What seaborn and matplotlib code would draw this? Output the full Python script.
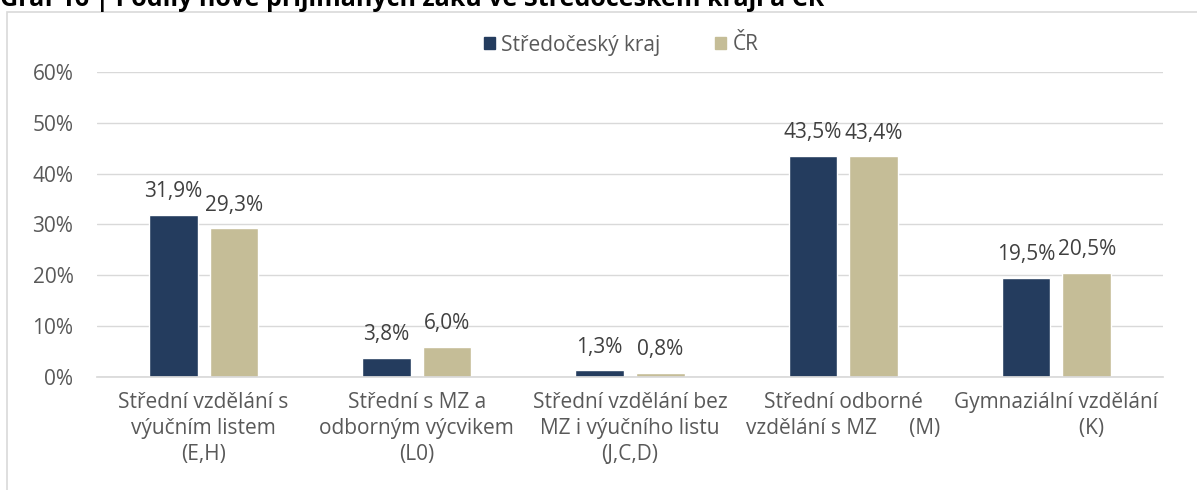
import matplotlib
matplotlib.use("Agg")
import matplotlib.pyplot as plt
import matplotlib.patches as mpatches
import seaborn as sns
import pandas as pd

categories = [
    "Střední vzdělání s\nvýučním listem\n(E,H)",
    "Střední s MZ a\nodborným výcvikem\n(L0)",
    "Střední vzdělání bez\nMZ i výučního listu\n(J,C,D)",
    "Střední odborné\nvzdělání s MZ      (M)",
    "Gymnaziální vzdělání\n             (K)",
]
series_names = ["Středočeský kraj", "ČR"]
stredocesky = [31.9, 3.8, 1.3, 43.5, 19.5]
cr = [29.3, 6.0, 0.8, 43.4, 20.5]
y_ticks = [0, 10, 20, 30, 40, 50, 60]
colors = ["#243C5E", "#C5BD97"]
title = "Graf 16 | Podíly nově přijímaných žáků ve Středočeském kraji a ČR"

df = pd.DataFrame({
    "kategorie": categories * 2,
    "serie": [series_names[0]] * 5 + [series_names[1]] * 5,
    "hodnota": stredocesky + cr,
})

sns.set_theme(style="white")
plt.rcParams["font.family"] = ["Open Sans", "DejaVu Sans"]
FS = 15

fig = plt.figure(figsize=(11.97, 4.90), dpi=100)
ax = fig.add_axes([97 / 1197, 1 - 377 / 490, (1163 - 97) / 1197, (377 - 72) / 490])

sns.barplot(data=df, x="kategorie", y="hodnota", hue="serie", palette=colors,
            order=categories, hue_order=series_names, width=0.57, gap=0.2,
            ax=ax, legend=False, saturation=1)

ax.set_ylim(0, 60)
ax.set_xlim(-0.5, len(categories) - 0.5)
ax.set_yticks(y_ticks)
ax.set_yticklabels([f"{t}%" for t in y_ticks], color="#595959", fontsize=FS)
ax.tick_params(axis="y", length=0, pad=17)
ax.tick_params(axis="x", length=0, pad=11)
ax.set_xticks(range(len(categories)))
ax.set_xticklabels(categories, color="#595959", fontsize=FS, linespacing=1.3, va="top")
ax.set_xlabel("")
ax.set_ylabel("")
ax.yaxis.grid(True, color="#D9D9D9", linewidth=1)
ax.set_axisbelow(True)
for s in ["top", "right", "left"]:
    ax.spines[s].set_visible(False)
ax.spines["bottom"].set_color("#D9D9D9")

for cont in ax.containers:
    labels = [f"{v:.1f}".replace(".", ",") + "%" for v in cont.datavalues]
    ax.bar_label(cont, labels=labels, padding=9, color="#404040", fontsize=FS)

# legend
handles = [mpatches.Patch(color=c, label=n) for c, n in zip(colors, series_names)]
fig.legend(handles=handles, loc="center", bbox_to_anchor=(621 / 1197, 1 - 45 / 490),
           ncol=2, frameon=False, fontsize=FS, handlelength=0.55, handleheight=0.55,
           handletextpad=0.3, columnspacing=2.6, labelcolor="#595959")

# outer frame of the chart area
frame = mpatches.Rectangle((7 / 1197, -0.1), 1.2, 1 - 12 / 490 + 0.1,
                           transform=fig.transFigure, fill=False,
                           edgecolor="#D9D9D9", linewidth=1.2)
fig.patches.append(frame)

fig.text(0.0, 1 - 6 / 490, title, fontsize=18, fontweight="bold", color="black",
         ha="left", va="baseline")

fig.savefig("out.png", dpi=100)
